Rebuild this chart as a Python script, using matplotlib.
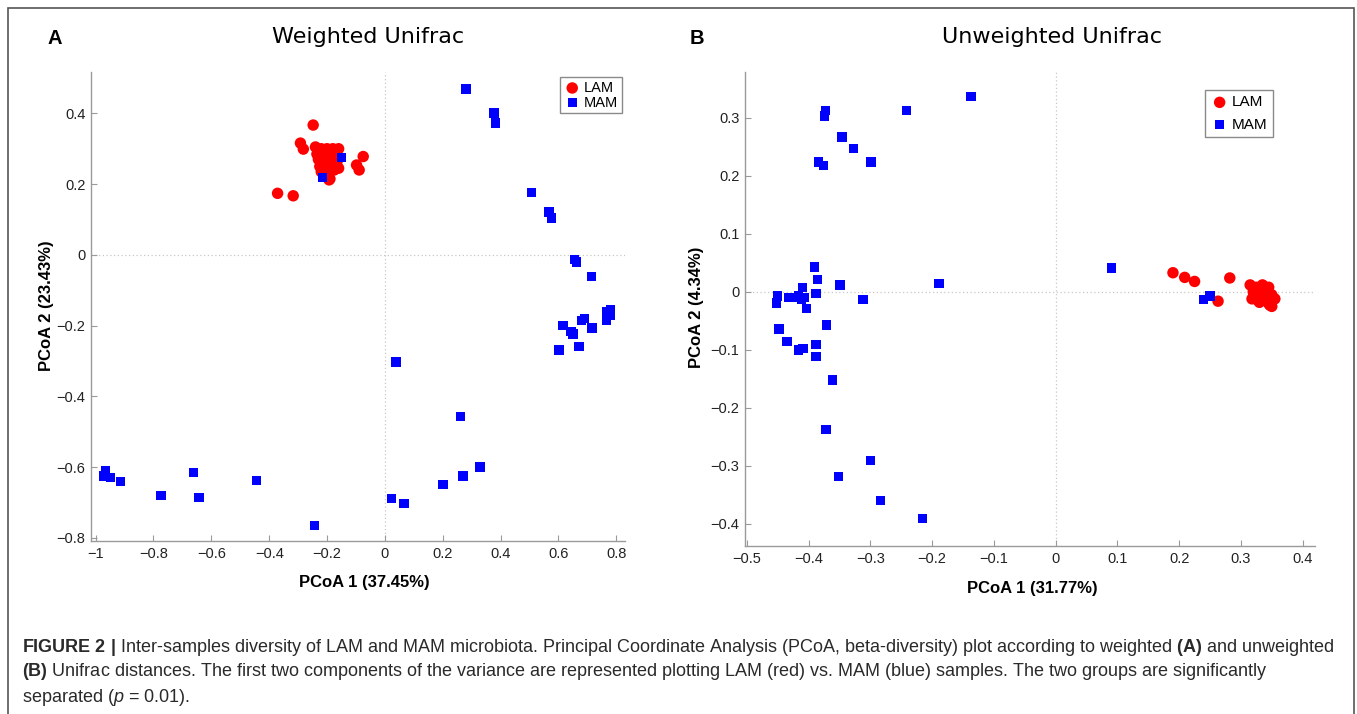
import matplotlib
matplotlib.use("Agg")
import matplotlib.pyplot as plt
from matplotlib import font_manager
from matplotlib.patches import Rectangle

# ---- data ----
# panel A, weighted unifrac
lam_a_x = [-0.248, -0.292, -0.282, -0.075, -0.098, -0.089, -0.371, -0.317, -0.193,
           -0.24, -0.22, -0.20, -0.18, -0.16, -0.235, -0.21, -0.19, -0.17, -0.23,
           -0.215, -0.20, -0.185, -0.165, -0.225, -0.21, -0.195, -0.175, -0.16,
           -0.205, -0.19, -0.22]
lam_a_y = [0.367, 0.316, 0.299, 0.278, 0.254, 0.240, 0.174, 0.167, 0.212,
           0.305, 0.30, 0.30, 0.30, 0.30, 0.285, 0.28, 0.285, 0.28, 0.27,
           0.26, 0.265, 0.255, 0.265, 0.25, 0.24, 0.235, 0.24, 0.245,
           0.225, 0.215, 0.235]
mam_a_x = [0.280, 0.377, 0.381, 0.508, 0.567, 0.577, 0.655, 0.661, 0.713, 0.767,
           0.779, 0.765, 0.772, 0.780, 0.680, 0.690, 0.616, 0.643, 0.650, 0.716,
           0.671, 0.602, -0.150, -0.215, 0.038, 0.260, 0.329, 0.270, 0.201, 0.024,
           0.066, -0.965, -0.972, -0.949, -0.913, -0.774, -0.663, -0.643, -0.444,
           -0.243]
mam_a_y = [0.469, 0.401, 0.373, 0.177, 0.121, 0.104, -0.013, -0.020, -0.062, -0.161,
           -0.156, -0.184, -0.165, -0.170, -0.186, -0.180, -0.200, -0.217, -0.224, -0.207,
           -0.260, -0.269, 0.276, 0.218, -0.303, -0.458, -0.600, -0.625, -0.650, -0.688,
           -0.702, -0.610, -0.625, -0.630, -0.640, -0.680, -0.616, -0.687, -0.637,
           -0.766]

# panel B, unweighted unifrac
lam_b_x = [0.190, 0.209, 0.225, 0.282, 0.263, 0.315, 0.325, 0.335, 0.345, 0.320,
           0.330, 0.340, 0.350, 0.318, 0.328, 0.338, 0.348, 0.355, 0.330, 0.345,
           0.350, 0.322, 0.340, 0.347]
lam_b_y = [0.033, 0.025, 0.018, 0.024, -0.016, 0.012, 0.008, 0.012, 0.008, 0.000,
           -0.002, 0.002, -0.005, -0.012, -0.015, -0.010, -0.013, -0.012, -0.018, -0.020,
           -0.025, 0.005, -0.015, -0.023]
mam_b_x = [-0.373, -0.374, -0.346, -0.327, -0.299, -0.384, -0.376, -0.242, -0.137,
           -0.391, -0.386, -0.349, -0.312, -0.450, -0.452, -0.433, -0.423, -0.410,
           -0.417, -0.407, -0.412, -0.404, -0.388, -0.371, -0.448, -0.435, -0.416,
           -0.409, -0.388, -0.388, -0.361, -0.372, -0.300, -0.351, -0.284, -0.215,
           -0.189, 0.090, 0.240, 0.250]
mam_b_y = [0.312, 0.303, 0.267, 0.247, 0.224, 0.224, 0.218, 0.313, 0.337,
           0.043, 0.022, 0.012, -0.013, -0.007, -0.019, -0.009, -0.009, 0.008,
           -0.006, -0.009, -0.013, -0.029, -0.003, -0.057, -0.064, -0.086, -0.100,
           -0.097, -0.091, -0.112, -0.152, -0.237, -0.290, -0.318, -0.360, -0.390,
           0.015, 0.041, -0.013, -0.007]

xticks_a = [-1, -0.8, -0.6, -0.4, -0.2, 0, 0.2, 0.4, 0.6, 0.8]
yticks_a = [-0.8, -0.6, -0.4, -0.2, 0, 0.2, 0.4]
xticks_b = [-0.5, -0.4, -0.3, -0.2, -0.1, 0, 0.1, 0.2, 0.3, 0.4]
yticks_b = [-0.4, -0.3, -0.2, -0.1, 0, 0.1, 0.2, 0.3]

caption = [
    r"$\mathbf{FIGURE\ 2\ |}$ Inter-samples diversity of LAM and MAM microbiota. Principal Coordinate "
    r"Analysis (PCoA, beta-diversity) plot according to weighted $\mathbf{(A)}$ and unweighted",
    r"$\mathbf{(B)}$ Unifrac distances. The first two components of the variance are represented "
    r"plotting LAM (red) vs. MAM (blue) samples. The two groups are significantly",
    r"separated ($\mathit{p}$ = 0.01).",
]

W, H = 1357, 714

installed = {f.name for f in font_manager.fontManager.ttflist}
cap_font = "Liberation Sans Narrow" if "Liberation Sans Narrow" in installed else "Liberation Sans"

plt.rcParams["font.family"] = ["Liberation Sans", "DejaVu Sans"]
plt.rcParams["mathtext.fontset"] = "custom"
plt.rcParams["mathtext.rm"] = cap_font
plt.rcParams["mathtext.bf"] = cap_font + ":bold"
plt.rcParams["mathtext.it"] = cap_font + ":italic"


def fmt(v):
    s = ("%g" % v)
    return s.replace("-", "\u2212")


def style_axes(ax, xt, yt):
    for side in ("top", "right"):
        ax.spines[side].set_visible(False)
    for side in ("left", "bottom"):
        ax.spines[side].set_color("#9a9a9a")
        ax.spines[side].set_linewidth(1.0)
    ax.set_xticks(xt)
    ax.set_xticklabels([fmt(v) for v in xt])
    ax.set_yticks(yt)
    ax.set_yticklabels([fmt(v) for v in yt])
    ax.tick_params(direction="in", length=4, color="#9a9a9a", labelsize=10.5,
                   labelcolor="#222222", pad=4)
    ax.axhline(0, color="#c8c8c8", ls=(0, (1, 2)), lw=0.9, zorder=0)
    ax.axvline(0, color="#c8c8c8", ls=(0, (1, 2)), lw=0.9, zorder=0)


fig = plt.figure(figsize=(W / 100, H / 100), dpi=100)

# panel A
ax1 = fig.add_axes([91 / W, 173 / H, 534 / W, 469 / H])
ax1.scatter(lam_a_x, lam_a_y, s=68, marker="o", color="#ff0000", edgecolors="none", label="LAM", zorder=2)
ax1.scatter(mam_a_x, mam_a_y, s=44, marker="s", color="#0000ff", edgecolors="none", label="MAM", zorder=3)
ax1.set_xlim(-1.016, 0.83)
ax1.set_ylim(-0.809, 0.517)
style_axes(ax1, xticks_a, yticks_a)
ax1.legend(loc="upper right", bbox_to_anchor=(0.994, 0.989), fontsize=10.5, frameon=True,
           fancybox=False, edgecolor="#8a8a8a", framealpha=1, borderpad=0.25,
           labelspacing=0.05, handletextpad=0.2, handlelength=1.2, borderaxespad=0)

# panel B
ax2 = fig.add_axes([745 / W, 168 / H, 570 / W, 474 / H])
ax2.scatter(lam_b_x, lam_b_y, s=68, marker="o", color="#ff0000", edgecolors="none", label="LAM", zorder=2)
ax2.scatter(mam_b_x, mam_b_y, s=44, marker="s", color="#0000ff", edgecolors="none", label="MAM", zorder=3)
ax2.set_xlim(-0.503, 0.42)
ax2.set_ylim(-0.438, 0.379)
style_axes(ax2, xticks_b, yticks_b)
ax2.legend(loc="upper right", bbox_to_anchor=(0.926, 0.962), fontsize=11, frameon=True,
           fancybox=False, edgecolor="#8a8a8a", framealpha=1, borderpad=0.35,
           labelspacing=0.55, handletextpad=0.2, handlelength=1.2, borderaxespad=0)

# titles, panel letters, axis labels
fig.text(368 / W, 1 - 37 / H, "Weighted Unifrac", family="DejaVu Sans", fontsize=16,
         ha="center", va="center")
fig.text(1052 / W, 1 - 37 / H, "Unweighted Unifrac", family="DejaVu Sans", fontsize=16,
         ha="center", va="center")
fig.text(48 / W, 1 - 39 / H, "A", fontsize=14.5, fontweight="bold", ha="left", va="center")
fig.text(690 / W, 1 - 39 / H, "B", fontsize=14.5, fontweight="bold", ha="left", va="center")

fig.text(364 / W, 1 - 583 / H, "PCoA 1 (37.45%)", fontsize=12, fontweight="bold", ha="center", va="center")
fig.text(1032 / W, 1 - 588 / H, "PCoA 1 (31.77%)", fontsize=12, fontweight="bold", ha="center", va="center")
fig.text(47 / W, 1 - 306 / H, "PCoA 2 (23.43%)", fontsize=12, fontweight="bold", rotation=90,
         ha="center", va="center")
fig.text(697 / W, 1 - 307 / H, "PCoA 2 (4.34%)", fontsize=12, fontweight="bold", rotation=90,
         ha="center", va="center")

# caption
for i, line in enumerate(caption):
    fig.text(22 / W, 1 - (647 + 25 * i) / H, line, family=cap_font, fontsize=13,
             color="#2a2a2a", ha="left", va="center")

# outer frame
fig.patches.append(Rectangle((8 / W, -0.01), 1346 / W, 1.01 - 8 / H, transform=fig.transFigure,
                             fill=False, edgecolor="#555555", lw=1.2))

fig.savefig("out.png", dpi=100)
